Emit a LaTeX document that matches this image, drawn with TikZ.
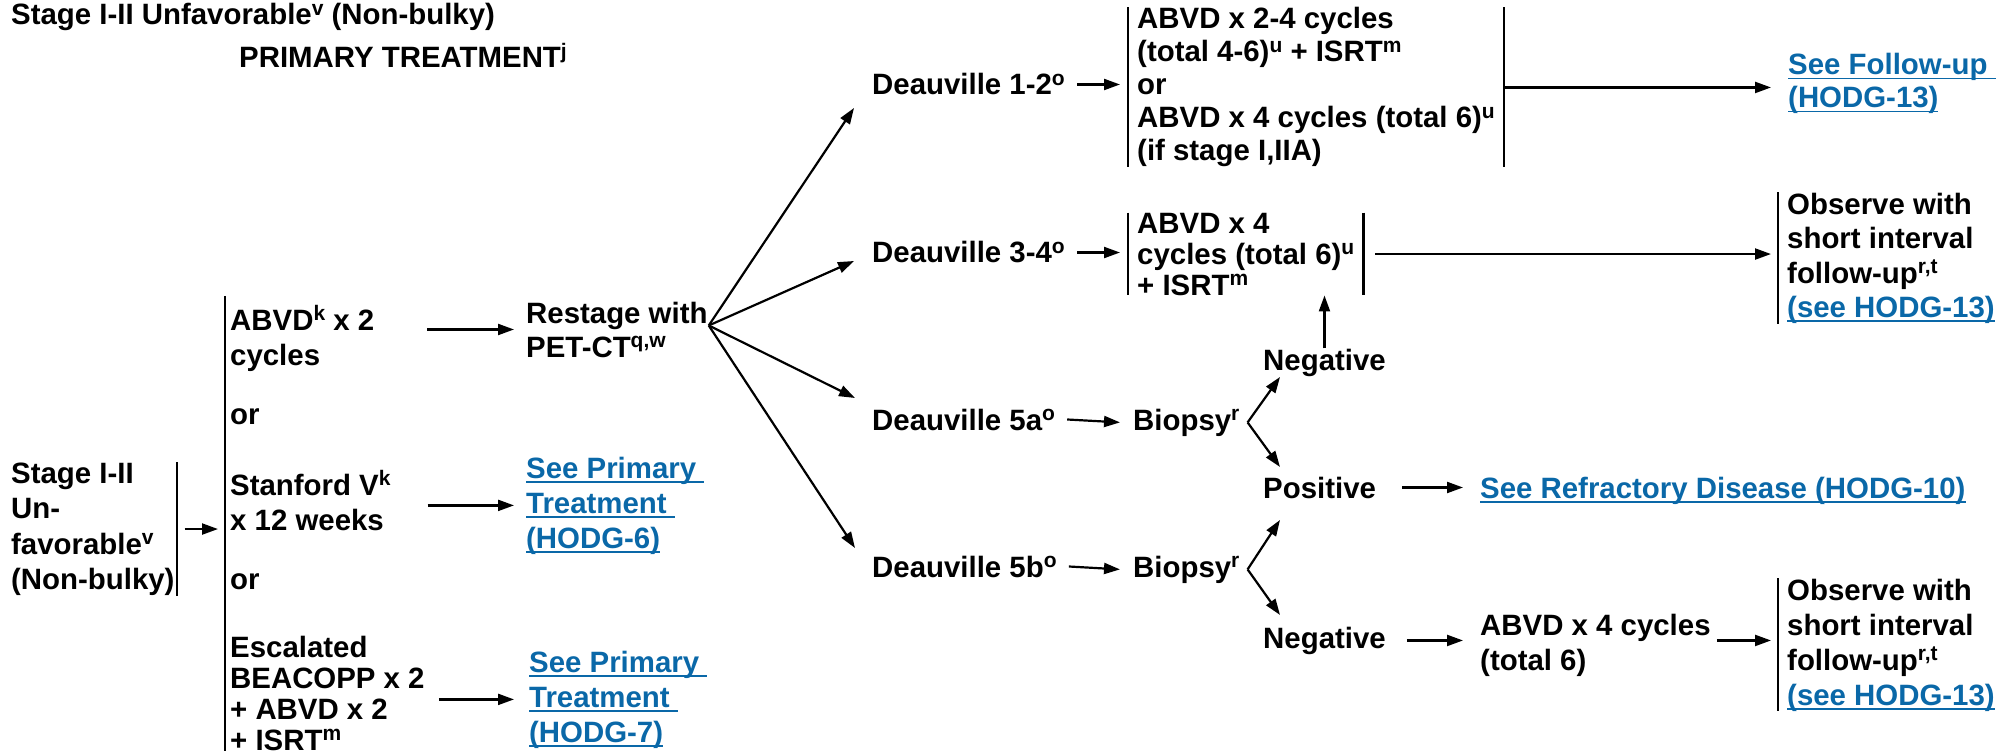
\documentclass[tikz,border=0pt]{standalone}
\usepackage{fontspec}
\setmainfont{Liberation Sans}
\usetikzlibrary{arrows.meta}
\definecolor{linkblue}{RGB}{10,104,168}
\newcommand\sps[1]{\raisebox{9.5pt}{\fontsize{21}{21}\selectfont #1}}
\newcommand\lnk[1]{{\color{linkblue}\setbox0\hbox{#1}\rlap{\rule[-4.5pt]{\wd0}{1.6pt}}\box0}}
\newcommand\fs[1]{\fontsize{29.4}{#1}\selectfont\bfseries}
\begin{document}
\begin{tikzpicture}[x=1pt,y=-1pt,
  every node/.style={font=\fs{34.5}, inner sep=0pt, align=left, anchor=base west},
  arr/.style={line width=2.2pt, -{Triangle[length=16pt,width=11pt]}},
  barline/.style={line width=2.4pt},
  boxed/.style={inner xsep=9pt}]
\useasboundingbox (0,0) rectangle (1997,751);
\fill[white] (0,0) rectangle (1997,751);

% headings (multi-line nodes are placed by the baseline of their last line)
\node (title) at (11,25) {Stage I-II Unfavorable\sps{v} (Non-bulky)};
\node (prim) at (239,68) {PRIMARY TREATMENT\sps{j}};

% left column
\node[inner xsep=2pt, font=\fs{35.5}] (lbox) at (9,589.5) {Stage I-II\\Un-\\favorable\sps{v}\\(Non-bulky)};
\coordinate (bt) at (225,296);
\coordinate (bb) at (225,760);

\node[font=\fs{35}] (opt1) at (230,365) {ABVD\sps{k} x 2\\cycles};
\node (or1) at (230,424) {or};
\node[font=\fs{35}] (opt2) at (230,530) {Stanford V\sps{k}\\x 12 weeks};
\node (or2) at (230,589) {or};
\node[font=\fs{31}] (opt3) at (230,750) {Escalated\\BEACOPP x 2\\+ ABVD x 2\\+ ISRT\sps{m}};

\node[font=\fs{34}] (restage) at (526,357) {Restage with\\PET-CT\sps{q,w}};
\node[font=\fs{35}] (sp6) at (526,548) {\lnk{See Primary\ }\\\lnk{Treatment\ }\\\lnk{(HODG-6)}};
\node[font=\fs{35}] (sp7) at (529,742) {\lnk{See Primary\ }\\\lnk{Treatment\ }\\\lnk{(HODG-7)}};

% Deauville column
\node (d12) at (872,95) {Deauville 1-2\sps{o}};
\node (d34) at (872,263) {Deauville 3-4\sps{o}};
\node (d5a) at (872,430) {Deauville 5a\sps{o}};
\node (d5b) at (872,577) {Deauville 5b\sps{o}};

\node[boxed, font=\fs{33}] (box1) at (1128,161) {ABVD x 2-4 cycles\\(total 4-6)\sps{u} + ISRT\sps{m}\\or\\ABVD x 4 cycles (total 6)\sps{u}\\(if stage I,IIA)};
\node[boxed, font=\fs{31}] (box2) at (1128,295) {ABVD x 4\\cycles (total 6)\sps{u}\\+ ISRT\sps{m}};

\node (biop5a) at (1133,430) {Biopsy\sps{r}};
\node (biop5b) at (1133,577) {Biopsy\sps{r}};
\node (neg1) at (1263,370) {Negative};
\node (pos) at (1263,498) {Positive};
\node (neg2) at (1263,648) {Negative};

% right column
\node[font=\fs{33}] (follow) at (1788,108) {\lnk{See Follow-up\ }\\\lnk{(HODG-13)}};
\node[boxed] (obs1) at (1778,317.5) {Observe with\\short interval\\follow-up\sps{r,t}\\\lnk{(see HODG-13)}};
\node (refr) at (1480,498) {\lnk{See Refractory Disease (HODG-10)}};
\node[font=\fs{35}] (abvd4) at (1480,670) {ABVD x 4 cycles\\(total 6)};
\node[boxed, font=\fs{35}] (obs2) at (1778,705) {Observe with\\short interval\\follow-up\sps{r,t}\\\lnk{(see HODG-13)}};

% bars
\draw[barline] (lbox.north east) -- (lbox.south east);
\draw[barline] (bt) -- (bb);
\draw[barline] (box1.north west) -- (box1.south west);
\draw[barline] (box1.north east) -- (box1.south east);
\draw[barline] (box2.north west) -- (box2.south west);
\draw[barline] (box2.north east) -- (box2.south east);
\draw[barline] (obs1.north west) -- (obs1.south west);
\draw[barline] (obs2.north west) -- (obs2.south west);

% connectors
\draw[arr] ([xshift=8pt]lbox.east) -- ([xshift=-7pt]bt |- lbox.east);
\draw[arr] ([xshift=53pt]opt1.east |- restage.west) -- ([xshift=-12pt]restage.west);
\draw[arr] ([xshift=37pt]opt2.east |- sp6.west) -- ([xshift=-12pt]sp6.west);
\draw[arr] ([xshift=14pt]opt3.east |- sp7.west) -- ([xshift=-15pt]sp7.west);

\coordinate (fan) at ([xshift=1pt,yshift=4pt]restage.east);
\draw[arr] (fan) -- ([xshift=-18pt,yshift=-23.5pt]d12.west);
\draw[arr] (fan) -- ([xshift=-18pt,yshift=-8.5pt]d34.west);
\draw[arr] (fan) -- ([xshift=-17pt,yshift=21.5pt]d5a.west);
\draw[arr] (fan) -- ([xshift=-17pt,yshift=18.5pt]d5b.west);

\draw[arr] ([xshift=12pt]d12.east) -- ([xshift=-8pt]box1.west |- d12.east);
\draw[arr] ([xshift=12pt]d34.east) -- ([xshift=-8pt]box2.west |- d34.east);
\draw[arr] ([xshift=12pt]d5a.east) -- ([xshift=-13pt]biop5a.west);
\draw[arr] ([xshift=12pt]d5b.east) -- ([xshift=-13pt]biop5b.west);

\coordinate (v5a) at ([xshift=8pt]biop5a.east);
\coordinate (v5b) at ([xshift=8pt]biop5b.east);
\draw[arr] (v5a) -- ([xshift=17pt,yshift=-14.5pt]neg1.west);
\draw[arr] (v5a) -- ([xshift=17pt,yshift=20.5pt]pos.west);
\draw[arr] (v5b) -- ([xshift=17pt,yshift=-32.5pt]pos.west);
\draw[arr] (v5b) -- ([xshift=17pt,yshift=25.5pt]neg2.west);

\draw[arr] (neg1.north) -- (neg1.north |- box2.south);
\draw[arr] (box1.east) -- ([xshift=-17pt]follow.west |- box1.east);
\draw[arr] ([xshift=12pt]box2.east) -- ([xshift=-7pt]obs1.west |- box2.east);
\draw[arr] ([xshift=26pt]pos.east) -- ([xshift=-17pt]refr.west |- pos.east);
\draw[arr] ([xshift=21pt]neg2.east) -- ([xshift=-17pt]abvd4.west |- neg2.east);
\draw[arr] ([xshift=6pt]abvd4.east |- neg2.east) -- ([xshift=-7pt]obs2.west |- neg2.east);
\end{tikzpicture}
\end{document}
